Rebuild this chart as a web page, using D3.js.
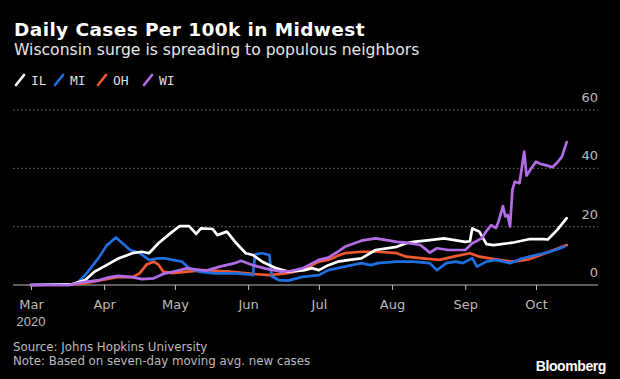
<!DOCTYPE html>
<html lang="en">

<head>
    <meta charset="UTF-8">
    <title>Daily Cases Per 100k in Midwest</title>
    <style>
        html, body {
            margin: 0;
            padding: 0;
            background: #000;
        }

        svg {
            display: block;
            font-family: "DejaVu Sans", sans-serif;
        }

        .grid line {
            stroke: #777;
            stroke-width: 1;
            stroke-dasharray: 1.5 2.5;
        }

        .series {
            fill: none;
            stroke-width: 2.7;
            stroke-linejoin: round;
            stroke-linecap: round;
        }
    </style>
</head>

<body>
    <svg id="chart"></svg>

    <script src="https://cdnjs.cloudflare.com/ajax/libs/d3/7.9.0/d3.min.js"></script>
    <script>
        // series names + colours
        const states = ["IL", "MI", "OH", "WI"];
        const colors = ["#ffffff", "#1f6fe0", "#f0582f", "#b26ce6"];

        // values: [date, cases per 100k]
        const IL = [
            ["2020-03-01", 0], ["2020-03-18", 0.2], ["2020-03-24", 1.7], ["2020-03-28", 4.6],
            ["2020-04-02", 6.8], ["2020-04-07", 9.1], ["2020-04-13", 10.9], ["2020-04-17", 11.4],
            ["2020-04-20", 10.9], ["2020-04-24", 14.3], ["2020-04-29", 17.7], ["2020-05-03", 20.2],
            ["2020-05-07", 20.2], ["2020-05-10", 17.5], ["2020-05-12", 19.4], ["2020-05-17", 19.2],
            ["2020-05-19", 17.1], ["2020-05-23", 18.3], ["2020-05-27", 14.3], ["2020-05-31", 10.9],
            ["2020-06-03", 10.3], ["2020-06-07", 8], ["2020-06-13", 5.7], ["2020-06-18", 4.6],
            ["2020-06-25", 5.1], ["2020-06-28", 5.8], ["2020-07-01", 5.1], ["2020-07-05", 6.8],
            ["2020-07-09", 8], ["2020-07-14", 8.6], ["2020-07-19", 9.1], ["2020-07-25", 12],
            ["2020-08-03", 13.1], ["2020-08-07", 14.3], ["2020-08-10", 14.8], ["2020-08-17", 15.4],
            ["2020-08-23", 16], ["2020-09-01", 14.8], ["2020-09-03", 15], ["2020-09-04", 19.4],
            ["2020-09-07", 18.3], ["2020-09-10", 14], ["2020-09-13", 13.7], ["2020-09-21", 14.5],
            ["2020-09-28", 15.7], ["2020-10-04", 15.7], ["2020-10-06", 15.6], ["2020-10-10", 18.9],
            ["2020-10-14", 22.9]
        ];
        const MI = [
            ["2020-03-01", 0], ["2020-03-20", 0.3], ["2020-03-24", 3.4], ["2020-03-30", 9.7],
            ["2020-04-02", 13.5], ["2020-04-06", 16.3], ["2020-04-12", 12], ["2020-04-16", 11],
            ["2020-04-20", 8.6], ["2020-04-24", 9.1], ["2020-04-27", 9.1], ["2020-04-30", 8.6],
            ["2020-05-04", 8], ["2020-05-07", 5.8], ["2020-05-11", 4.6], ["2020-05-18", 4],
            ["2020-05-27", 4], ["2020-06-01", 3.6], ["2020-06-03", 3.4], ["2020-06-04", 10.5],
            ["2020-06-07", 10.9], ["2020-06-10", 10.3], ["2020-06-11", 3], ["2020-06-14", 1.7],
            ["2020-06-18", 1.5], ["2020-06-24", 2.8], ["2020-07-01", 3.4], ["2020-07-05", 5.1],
            ["2020-07-12", 6.3], ["2020-07-19", 7.5], ["2020-07-23", 6.8], ["2020-07-26", 7.5],
            ["2020-08-03", 8], ["2020-08-10", 8], ["2020-08-17", 7.5], ["2020-08-20", 5.1],
            ["2020-08-24", 7.5], ["2020-08-28", 8], ["2020-08-31", 7.5], ["2020-09-04", 9.2],
            ["2020-09-06", 6.3], ["2020-09-10", 8], ["2020-09-14", 8.6], ["2020-09-20", 7.5],
            ["2020-09-25", 9.1], ["2020-10-01", 10.3], ["2020-10-07", 11.4], ["2020-10-11", 12.5],
            ["2020-10-13", 13.2]
        ];
        const OH = [
            ["2020-03-01", 0], ["2020-03-17", 0], ["2020-03-24", 0.6], ["2020-04-02", 2],
            ["2020-04-07", 2.8], ["2020-04-13", 2.7], ["2020-04-16", 4], ["2020-04-19", 7],
            ["2020-04-22", 8], ["2020-04-24", 7], ["2020-04-26", 4.6], ["2020-04-30", 4.1],
            ["2020-05-13", 5.1], ["2020-05-24", 4.6], ["2020-06-03", 3.8], ["2020-06-10", 3.4],
            ["2020-06-17", 4], ["2020-06-24", 5.1], ["2020-07-01", 8], ["2020-07-05", 8.6],
            ["2020-07-09", 10], ["2020-07-12", 10.9], ["2020-07-19", 11.4], ["2020-07-26", 11.4],
            ["2020-08-03", 10.9], ["2020-08-07", 9.7], ["2020-08-14", 9.1], ["2020-08-21", 8.6],
            ["2020-08-28", 9.9], ["2020-09-03", 10.9], ["2020-09-07", 9.7], ["2020-09-14", 8.8],
            ["2020-09-21", 8], ["2020-09-28", 8.8], ["2020-10-05", 10.9], ["2020-10-14", 13.7]
        ];
        const WI = [
            ["2020-03-01", 0], ["2020-03-17", 0], ["2020-03-24", 1.1], ["2020-03-30", 1.7],
            ["2020-04-03", 2.6], ["2020-04-07", 3.1], ["2020-04-13", 2.7], ["2020-04-17", 2],
            ["2020-04-22", 2.3], ["2020-04-26", 3.8], ["2020-05-02", 4.9], ["2020-05-06", 5.7],
            ["2020-05-14", 4.9], ["2020-05-20", 6.3], ["2020-05-26", 7.4], ["2020-05-29", 8.3],
            ["2020-06-03", 6.8], ["2020-06-08", 5.7], ["2020-06-15", 4.6], ["2020-06-19", 4.8],
            ["2020-06-24", 5.7], ["2020-07-01", 8.6], ["2020-07-05", 9.4], ["2020-07-09", 11.4],
            ["2020-07-12", 13.1], ["2020-07-19", 15.2], ["2020-07-25", 16], ["2020-07-31", 15.2],
            ["2020-08-03", 14.8], ["2020-08-07", 14.5], ["2020-08-13", 13.7], ["2020-08-17", 11.1],
            ["2020-08-20", 12.6], ["2020-08-25", 12], ["2020-09-01", 12], ["2020-09-04", 14.3],
            ["2020-09-08", 16], ["2020-09-10", 18.5], ["2020-09-12", 20.5], ["2020-09-14", 19.5],
            ["2020-09-15", 21.5], ["2020-09-17", 27], ["2020-09-18", 23.5], ["2020-09-19", 24],
            ["2020-09-20", 20], ["2020-09-21", 32.6], ["2020-09-22", 35.4], ["2020-09-24", 34.9],
            ["2020-09-26", 45.7], ["2020-09-27", 37.5], ["2020-09-29", 40], ["2020-10-01", 42.3],
            ["2020-10-03", 41.5], ["2020-10-05", 41.1], ["2020-10-08", 40.4], ["2020-10-10", 42],
            ["2020-10-11", 43], ["2020-10-12", 44], ["2020-10-14", 49]
        ];
        const seriesValues = [IL, MI, OH, WI];

        // axis ticks
        const monthTicks = ["2020-03-01", "2020-04-01", "2020-05-01", "2020-06-01",
            "2020-07-01", "2020-08-01", "2020-09-01", "2020-10-01"];
        const monthLabels = ["Mar", "Apr", "May", "Jun", "Jul", "Aug", "Sep", "Oct"];
        const yTicks = [0, 20, 40, 60];

        const w = 620;
        const h = 379;
        const left = 13, right = 598;
        const baseY = 285;

        const parse = d3.utcParse("%Y-%m-%d");

        const svg = d3.select("#chart")
            .attr("width", w)
            .attr("height", h);

        const xScale = d3.scaleUtc()
            .domain([parse("2020-03-01"), parse("2020-10-01")])
            .range([31, 536]);

        const yScale = d3.scaleLinear()
            .domain([0, 60])
            .range([baseY, 110]);

        // titles
        svg.append("text")
            .attr("x", 14).attr("y", 36)
            .attr("fill", "#fff")
            .attr("font-size", 18.5)
            .attr("font-weight", "bold")
            .attr("letter-spacing", 0.4)
            .text("Daily Cases Per 100k in Midwest");

        svg.append("text")
            .attr("x", 14).attr("y", 55)
            .attr("fill", "#e6e6e6")
            .attr("font-size", 15.6)
            .text("Wisconsin surge is spreading to populous neighbors");

        // legend
        const legendX = [15, 54, 97, 143];
        const legend = svg.append("g").selectAll("g")
            .data(states)
            .enter()
            .append("g")
            .attr("transform", (d, i) => "translate(" + legendX[i] + ",80)");

        legend.append("line")
            .attr("x1", 1).attr("y1", 5)
            .attr("x2", 9).attr("y2", -5)
            .attr("stroke", (d, i) => colors[i])
            .attr("stroke-width", 2.6)
            .attr("stroke-linecap", "round");

        legend.append("text")
            .attr("x", 16).attr("y", 5)
            .attr("fill", "#ddd")
            .attr("font-family", "'DejaVu Sans Mono', monospace")
            .attr("font-size", 13)
            .text(d => d);

        // gridlines + y labels
        const grid = svg.append("g").attr("class", "grid");
        grid.selectAll("line")
            .data(yTicks.filter(v => v > 0))
            .enter()
            .append("line")
            .attr("x1", left).attr("x2", right)
            .attr("y1", d => yScale(d)).attr("y2", d => yScale(d));

        svg.append("g").selectAll("text")
            .data(yTicks)
            .enter()
            .append("text")
            .attr("x", right)
            .attr("y", d => yScale(d) - 8)
            .attr("text-anchor", "end")
            .attr("fill", "#bbb")
            .attr("font-size", 13)
            .text(d => d);

        // x axis
        const xAxis = d3.axisBottom(xScale)
            .tickValues(monthTicks.map(parse))
            .tickSize(5)
            .tickFormat((d, i) => monthLabels[i]);

        const gx = svg.append("g")
            .attr("transform", "translate(0," + baseY + ")")
            .call(xAxis);

        gx.select(".domain").remove();
        gx.selectAll(".tick line").attr("stroke", "#bbb");
        gx.selectAll(".tick text")
            .attr("fill", "#bbb")
            .attr("font-family", "'DejaVu Sans', sans-serif")
            .attr("font-size", 13)
            .attr("y", 24)
            .attr("dy", null);

        gx.append("text")
            .attr("x", xScale(parse("2020-03-01")))
            .attr("y", 41)
            .attr("text-anchor", "middle")
            .attr("fill", "#bbb")
            .attr("font-size", 13)
            .text("2020");

        svg.append("line")
            .attr("x1", left).attr("x2", right)
            .attr("y1", baseY).attr("y2", baseY)
            .attr("stroke", "#bbb")
            .attr("stroke-width", 1);

        // lines, OH and MI under IL and WI
        const line = d3.line()
            .x(d => xScale(parse(d[0])))
            .y(d => yScale(d[1]));

        svg.append("g").selectAll("path")
            .data([OH, MI, IL, WI])
            .enter()
            .append("path")
            .attr("class", "series")
            .attr("stroke", d => colors[seriesValues.indexOf(d)])
            .attr("d", line);

        // footer
        svg.append("text")
            .attr("x", 13).attr("y", 351)
            .attr("fill", "#bbb")
            .attr("font-size", 11.8)
            .text("Source: Johns Hopkins University");

        svg.append("text")
            .attr("x", 13).attr("y", 365)
            .attr("fill", "#bbb")
            .attr("font-size", 11.8)
            .text("Note: Based on seven-day moving avg. new cases");

        svg.append("text")
            .attr("x", 606).attr("y", 371)
            .attr("text-anchor", "end")
            .attr("fill", "#fff")
            .attr("font-family", "'Liberation Sans', Arial, sans-serif")
            .attr("font-weight", "bold")
            .attr("font-size", 14)
            .attr("letter-spacing", -0.4)
            .text("Bloomberg");
    </script>
</body>

</html>
